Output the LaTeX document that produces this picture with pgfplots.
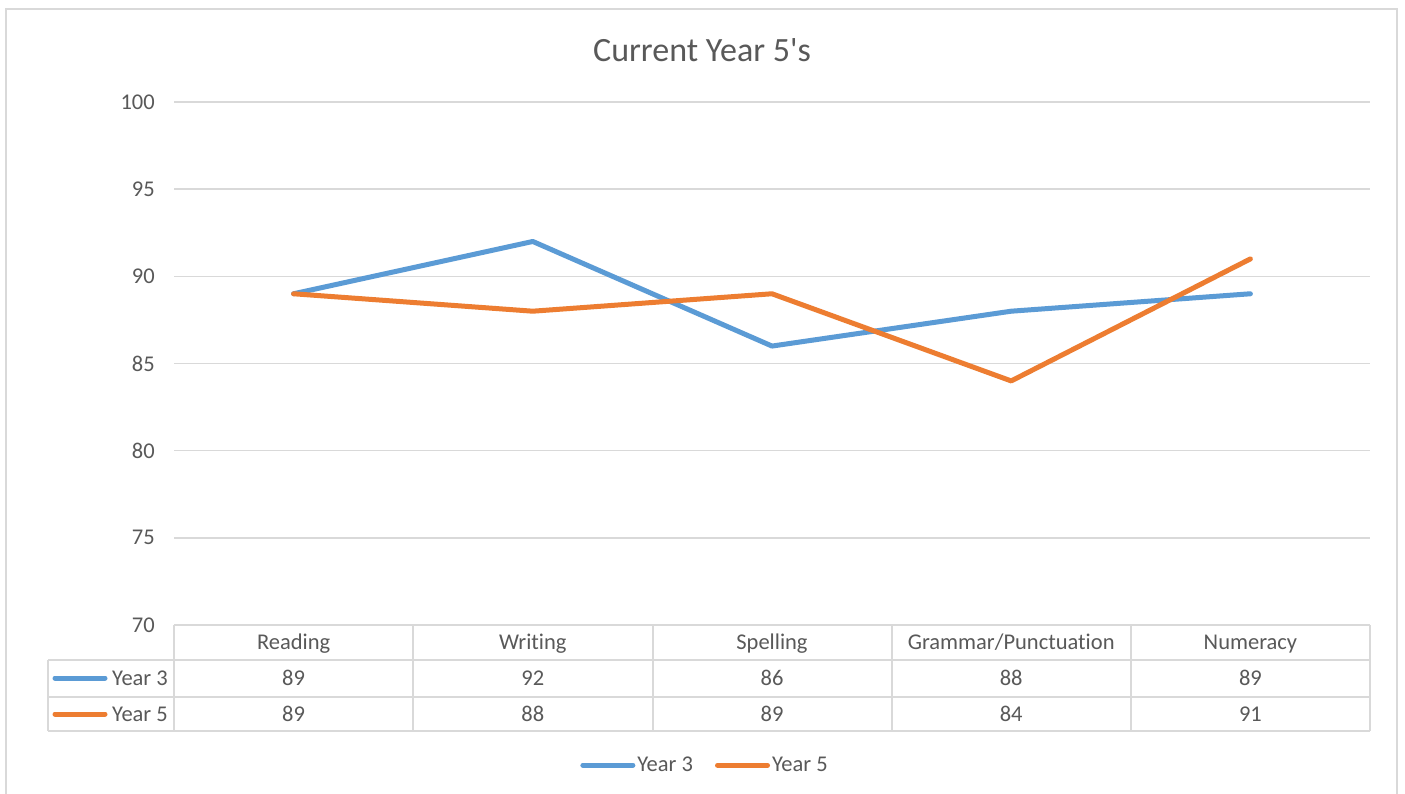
\documentclass[border=0pt]{standalone}
\usepackage{pgfplots}
\pgfplotsset{compat=1.18}
\usepackage{fontspec}
\setmainfont{Carlito}[Ligatures={NoCommon}]
\definecolor{gblue}{HTML}{5B9BD5}
\definecolor{gorange}{HTML}{ED7D31}
\definecolor{gridc}{HTML}{D9D9D9}
\definecolor{txt}{HTML}{595959}
\newcommand{\tf}{\fontsize{22.5}{27}\selectfont}
\begin{document}
\begin{tikzpicture}
\useasboundingbox (0pt,0pt) rectangle (1405pt,-794pt);
\fill[white] (0pt,0pt) rectangle (1405pt,-794pt);
\draw[gridc, line width=2pt] (6pt,-800pt) -- (6pt,-9pt) -- (1397pt,-9pt) -- (1397pt,-800pt);
\node[txt, font=\fontsize{34}{40}\selectfont] at (702pt,-50pt) {Current Year 5\textquotesingle s};
\begin{axis}[
  at={(174pt,-625pt)}, anchor=south west,
  width=1196pt, height=523pt, scale only axis,
  xmin=-0.5, xmax=4.5, ymin=70, ymax=100,
  xtick=\empty, ytick={70,75,...,100},
  ymajorgrids, grid style={gridc, line width=1.5pt},
  axis line style={draw=none}, major tick length=0pt,
  yticklabel style={font=\tf, text=txt, anchor=east, inner sep=0pt, xshift=-19pt},
  /pgf/number format/assume math mode=true,
  legend style={at={(0.444,-0.268)}, anchor=center, draw=none, fill=none, font=\tf, text=txt, legend columns=2, /tikz/every even column/.append style={column sep=20pt}},
  legend image code/.code={\draw[#1, line width=5pt, line cap=round] (0pt,0pt) -- (50pt,0pt);},
  every axis plot/.append style={line width=5pt, line join=round, line cap=round},
]
\addplot[gblue] coordinates {(0,89) (1,92) (2,86) (3,88) (4,89)};
\addplot[gorange] coordinates {(0,89) (1,88) (2,89) (3,84) (4,91)};
\legend{Year 3, Year 5}
\end{axis}
% data table
\begin{scope}[gridc, line width=2pt]
\draw (174pt,-625pt) -- (1370pt,-625pt);
\foreach \yy in {660,697,731} \draw (48pt,-\yy pt) -- (1370pt,-\yy pt);
\draw (48pt,-660pt) -- (48pt,-731pt);
\foreach \xx in {174,413,653,892,1131,1370} \draw (\xx pt,-625pt) -- (\xx pt,-731pt);
\end{scope}
\draw[gblue, line width=5pt, line cap=round] (55pt,-678pt) -- (105pt,-678pt);
\draw[gorange, line width=5pt, line cap=round] (55pt,-714pt) -- (105pt,-714pt);
\begin{scope}[every node/.style={font=\tf, text=txt, inner sep=0pt}]
\node[anchor=east] at (168pt,-678pt) {Year 3};
\node[anchor=east] at (168pt,-714pt) {Year 5};
\foreach \x/\n/\a/\b in {293.6/Reading/89/89, 532.8/Writing/92/88, 772/Spelling/86/89, 1011.2/Grammar\slash Punctuation/88/84, 1250.4/Numeracy/89/91} {
  \node[text height=15pt, text depth=5pt] at (\x pt,-644pt) {\n};
  \node at (\x pt,-678pt) {\a};
  \node at (\x pt,-714pt) {\b};
}
\end{scope}
\end{tikzpicture}
\end{document}
